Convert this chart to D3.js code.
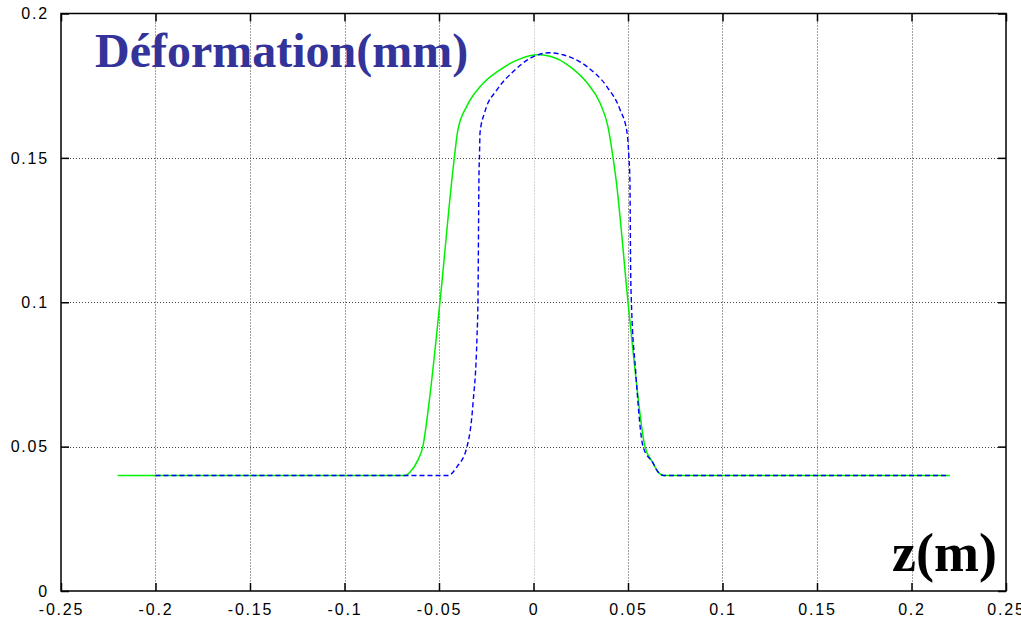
<!DOCTYPE html>
<html>
<head>
<meta charset="utf-8">
<script src="https://cdn.jsdelivr.net/npm/d3@7"></script>
<style>
  body { margin: 0; background: #fff; }
</style>
</head>
<body>
<script>
// tick values
var xTicks = [-0.25, -0.2, -0.15, -0.1, -0.05, 0, 0.05, 0.1, 0.15, 0.2, 0.25];
var yTicks = [0, 0.05, 0.1, 0.15, 0.2];

// green curve (solid)
var greenZ = [-0.22, -0.068, -0.0653, -0.0611, -0.0585, -0.0553, -0.0495, -0.0426, -0.040, -0.0352, -0.0283,
  -0.0177, -0.0071, 0.0019, 0.0087, 0.0193, 0.0283, 0.0352, 0.0394, 0.0421, 0.0437, 0.0500, 0.0537,
  0.0590, 0.0632, 0.0658, 0.069, 0.22];
var greenD = [0.04, 0.04, 0.0412, 0.0454, 0.0502, 0.065, 0.100, 0.1459, 0.1597, 0.168, 0.1746,
  0.1805, 0.1843, 0.1857, 0.1852, 0.1816, 0.176, 0.169, 0.1608, 0.150, 0.1424, 0.1001, 0.0766,
  0.0499, 0.0444, 0.0413, 0.040, 0.04];

// blue curve (dashed)
var blueZ = [-0.2, -0.0452, -0.0405, -0.0352, -0.032, -0.0299, -0.0294, -0.0288, -0.0286, -0.0283, -0.0257,
  -0.0193, -0.0109, -0.0003, 0.0087, 0.0156, 0.0283, 0.0389, 0.0458, 0.0495, 0.0505, 0.0510,
  0.0514, 0.0518, 0.0540, 0.0580, 0.0632, 0.0658, 0.069, 0.22];
var blueD = [0.04, 0.04, 0.043, 0.0499, 0.065, 0.088, 0.100, 0.1459, 0.150, 0.1587, 0.166,
  0.1736, 0.1798, 0.185, 0.1864, 0.1857, 0.1816, 0.1746, 0.1667, 0.1587, 0.150, 0.1424,
  0.111, 0.100, 0.0766, 0.0499, 0.0444, 0.0413, 0.040, 0.04];

var w = 1021, h = 620;
// plot frame (note: "top" is reserved on window, so use pTop etc.)
var pLeft = 61, pRight = 1006, pTop = 13.5, pBottom = 591;

var svg = d3.select("body").append("svg").attr("width", w).attr("height", h);

var x = d3.scaleLinear().domain([-0.25, 0.25]).range([pLeft, pRight]);
var y = d3.scaleLinear().domain([0, 0.2]).range([pBottom, pTop]);

// grid
svg.append("g").selectAll("line")
  .data(xTicks.slice(1, -1)).enter().append("line")
  .attr("x1", function (d) { return Math.round(x(d)) + 0.5; })
  .attr("x2", function (d) { return Math.round(x(d)) + 0.5; })
  .attr("y1", pTop).attr("y2", pBottom)
  .attr("stroke", function (d) { return d === 0 ? "#aaa" : "#444"; })
  .attr("stroke-width", 1)
  .attr("stroke-dasharray", "1,2");
svg.append("g").selectAll("line")
  .data(yTicks.slice(1, -1)).enter().append("line")
  .attr("y1", function (d) { return Math.round(y(d)) + 0.5; })
  .attr("y2", function (d) { return Math.round(y(d)) + 0.5; })
  .attr("x1", pLeft).attr("x2", pRight)
  .attr("stroke", "#444")
  .attr("stroke-width", 1)
  .attr("stroke-dasharray", "1,2");

// axes (inward ticks, mirrored)
var fmt = function (d) { return String(+d.toFixed(2)); };
function styleAxis(g) {
  g.select(".domain").remove();
  g.attr("font-family", "'Liberation Sans', Arial, sans-serif").attr("font-size", 16);
  g.selectAll(".tick text").attr("letter-spacing", "1.8px").attr("fill", "#000");
  g.selectAll(".tick line").attr("stroke", "#000").attr("stroke-width", 1.5);
}
svg.append("g").attr("transform", "translate(0," + pBottom + ")")
  .call(d3.axisBottom(x).tickValues(xTicks).tickSize(-8).tickPadding(13).tickFormat(fmt))
  .call(styleAxis);
svg.append("g").attr("transform", "translate(0," + pTop + ")")
  .call(d3.axisTop(x).tickValues(xTicks).tickSize(-8).tickFormat(""))
  .call(styleAxis);
svg.append("g").attr("transform", "translate(" + pLeft + ",0)")
  .call(d3.axisLeft(y).tickValues(yTicks).tickSize(-8).tickPadding(12).tickFormat(fmt))
  .call(styleAxis);
svg.append("g").attr("transform", "translate(" + pRight + ",0)")
  .call(d3.axisRight(y).tickValues(yTicks).tickSize(-8).tickFormat(""))
  .call(styleAxis);

// frame
svg.append("rect")
  .attr("x", pLeft).attr("y", pTop)
  .attr("width", pRight - pLeft).attr("height", pBottom - pTop)
  .attr("fill", "none").attr("stroke", "#000").attr("stroke-width", 1.5);

var line = d3.line()
  .x(function (d) { return x(d[0]); })
  .y(function (d) { return y(d[1]); })
  .curve(d3.curveMonotoneX);

svg.append("path")
  .attr("d", line(d3.zip(greenZ, greenD)))
  .attr("fill", "none").attr("stroke", "#00f000").attr("stroke-width", 1.5);

svg.append("path")
  .attr("d", line(d3.zip(blueZ, blueD)))
  .attr("fill", "none").attr("stroke", "#0000ff").attr("stroke-width", 1.4)
  .attr("stroke-dasharray", "5,3");

// titles
svg.append("text")
  .attr("x", 95).attr("y", 67)
  .attr("font-family", "'Liberation Serif', 'Times New Roman', serif")
  .attr("font-weight", "bold").attr("font-size", 48)
  .attr("fill", "#333399")
  .text("Déformation(mm)");

svg.append("text")
  .attr("x", 997).attr("y", 571)
  .attr("text-anchor", "end")
  .attr("font-family", "'Liberation Serif', 'Times New Roman', serif")
  .attr("font-weight", "bold").attr("font-size", 54)
  .attr("fill", "#000")
  .text("z(m)");
</script>
</body>
</html>
